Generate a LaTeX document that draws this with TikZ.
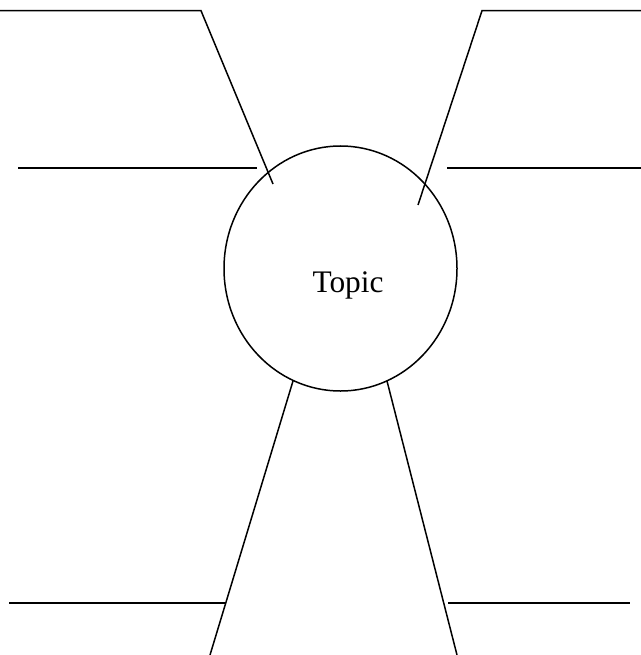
\documentclass[tikz,border=0pt]{standalone}
\usepackage{fontspec}
\setmainfont{Liberation Serif}
\usetikzlibrary{shapes.geometric}
\begin{document}
\begin{tikzpicture}[x=1bp,y=-1bp,
  ln/.style={line width=1.5bp,black},
  topicshape/.style={draw,ellipse,line width=1.5bp,minimum width=233bp,minimum height=245bp,inner sep=0pt},
  topictext/.style={font=\fontsize{31.5}{36}\selectfont,anchor=base,inner sep=0pt}]
\useasboundingbox (0,0) rectangle (641,655);
\node[topicshape] (topic) at (340.5,268.5) {};
\node[topictext] (topiclabel) at (348,292) {Topic};
% top-left
\coordinate (tl0) at (0,10.7);
\coordinate (tl1) at (201,10.7);
\coordinate (tl2) at (273,184);
\coordinate (hl0) at (18,168);
\coordinate (hl1) at (257,168);
% top-right
\coordinate (tr0) at (641,10.7);
\coordinate (tr1) at (482,10.7);
\coordinate (tr2) at (418,205);
\coordinate (hr0) at (447,168);
\coordinate (hr1) at (641,168);
% bottom-left
\coordinate (bl0) at (293,381);
\coordinate (bl1) at (210,655);
\coordinate (hbl0) at (9,603);
\coordinate (hbl1) at (226,603);
% bottom-right
\coordinate (br0) at (387,381);
\coordinate (br1) at (457,655);
\coordinate (hbr0) at (448,603);
\coordinate (hbr1) at (630,603);
\draw[ln] (tl0) -- (tl1) -- (tl2);
\draw[ln] (hl0) -- (hl1);
\draw[ln] (tr0) -- (tr1) -- (tr2);
\draw[ln] (hr0) -- (hr1);
\draw[ln] (bl0) -- (bl1);
\draw[ln] (hbl0) -- (hbl1);
\draw[ln] (br0) -- (br1);
\draw[ln] (hbr0) -- (hbr1);
\end{tikzpicture}
\end{document}
